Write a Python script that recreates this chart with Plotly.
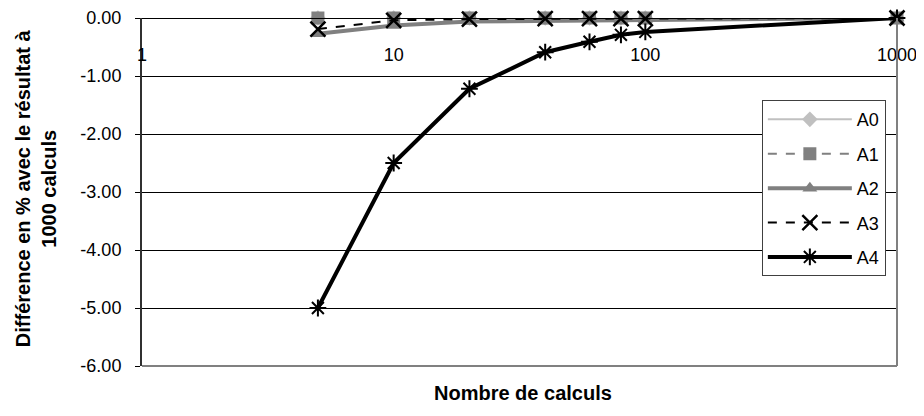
import plotly.graph_objects as go

# Data
n_calculs = [5, 10, 20, 40, 60, 80, 100, 1000]
A0 = [0, 0, 0, 0, 0, 0, 0, 0]
A1 = [0, 0, 0, 0, 0, 0, 0, 0]
A2 = [-0.27, -0.13, -0.06, -0.05, -0.04, -0.03, -0.03, 0]
A3 = [-0.19, -0.04, -0.02, -0.01, -0.01, -0.01, -0.01, 0]
A4 = [-5.00, -2.50, -1.22, -0.59, -0.41, -0.29, -0.24, 0]

y_ticks = [0, -1, -2, -3, -4, -5, -6]
y_ticktext = ["0.00", "-1.00", "-2.00", "-3.00", "-4.00", "-5.00", "-6.00"]
x_ticks = [1, 10, 100, 1000]
x_ticktext = ["1", "10", "100", "1000"]

FONT = "Arial, 'Liberation Sans', sans-serif"

series = [
    ("A0", A0, dict(color="#c0c0c0", width=2, dash="solid"),
     dict(symbol="diamond", size=12, color="#c0c0c0")),
    ("A1", A1, dict(color="#808080", width=2, dash="dash"),
     dict(symbol="square", size=13, color="#808080")),
    ("A2", A2, dict(color="#808080", width=4, dash="solid"),
     dict(symbol="triangle-up", size=13, color="#808080")),
    ("A3", A3, dict(color="#000000", width=2, dash="dash"),
     dict(symbol="x-thin-open", size=15, color="#000000",
          line=dict(color="#000000", width=2.5))),
    ("A4", A4, dict(color="#000000", width=4, dash="solid"),
     dict(symbol="asterisk-open", size=14, color="#000000",
          line=dict(color="#000000", width=2))),
]

fig = go.Figure()
for name, vals, ln, mk in series:
    fig.add_trace(go.Scatter(
        x=n_calculs, y=vals, name=name, mode="lines+markers",
        line=ln, marker=mk, legendgroup=name, cliponaxis=False,
    ))

# the page body has an 8px margin, so the figure is 916x408 and offset accordingly
fig.update_layout(
    width=916, height=408,
    margin=dict(l=134, r=27, t=10, b=50, autoexpand=False),
    paper_bgcolor="white", plot_bgcolor="white",
    font=dict(family=FONT, size=18, color="black"),
    showlegend=True,
    legend=dict(
        x=0.821, y=0.764, xanchor="left", yanchor="top",
        bgcolor="white", bordercolor="#404040", borderwidth=1,
        font=dict(family=FONT, size=18, color="black"),
        itemwidth=84, tracegroupgap=8,
    ),
    xaxis=dict(
        type="log", range=[0, 3], anchor="free", position=1, side="bottom",
        tickvals=x_ticks, ticktext=x_ticktext,
        ticklabelstandoff=20, automargin=False,
        showgrid=False, zeroline=False,
        showline=True, linecolor="black", linewidth=1,
        ticks="", tickfont=dict(family=FONT, size=18, color="black"),
    ),
    yaxis=dict(
        range=[-6, 0], automargin=False,
        tickvals=y_ticks, ticktext=y_ticktext,
        showgrid=True, gridcolor="black", gridwidth=1,
        zeroline=False,
        showline=True, linecolor="#303030", linewidth=2,
        ticks="outside", ticklen=5, tickcolor="black",
        ticklabelstandoff=10,
        tickfont=dict(family=FONT, size=18, color="black"),
    ),
    shapes=[
        dict(type="line", xref="paper", yref="paper", x0=0, x1=1, y0=0, y1=0,
             line=dict(color="#808080", width=2)),
        dict(type="line", xref="paper", yref="paper", x0=1, x1=1, y0=0, y1=1,
             line=dict(color="#808080", width=2)),
    ],
    annotations=[
        dict(text="<b>Différence en % avec le résultat à<br>1000 calculs</b>",
             xref="paper", yref="paper", x=-0.1404, y=0.511,
             textangle=-90, showarrow=False, xanchor="center", yanchor="middle",
             font=dict(family=FONT, size=20, color="black")),
        dict(text="<b>Nombre de calculs</b>",
             xref="paper", yref="paper", x=0.505, y=-0.078,
             showarrow=False, xanchor="center", yanchor="middle",
             font=dict(family=FONT, size=20, color="black")),
    ],
)

fig.write_html("out.html")
